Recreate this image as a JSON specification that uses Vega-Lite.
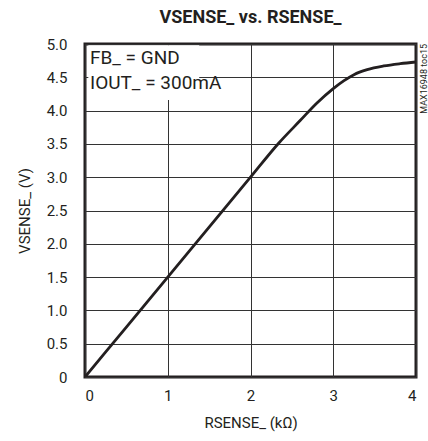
{
  "$schema": "https://vega.github.io/schema/vega-lite/v6.json",
  "autosize": "none",
  "padding": {"left": 85, "top": 44, "right": 12, "bottom": 64},
  "width": 331,
  "height": 333,
  "background": "white",
  "config": {
    "font": "Roboto, Liberation Sans, sans-serif",
    "view": {"stroke": "#231f20", "strokeWidth": 3},
    "axis": {
      "grid": true,
      "gridColor": "#333333",
      "gridWidth": 1,
      "gridOpacity": 1,
      "domain": false,
      "ticks": false,
      "labelFont": "Roboto, Liberation Sans, sans-serif",
      "labelFontSize": 15,
      "labelFontWeight": "normal",
      "labelColor": "#231f20",
      "labelOverlap": false,
      "titleFont": "Roboto, Liberation Sans, sans-serif",
      "titleFontSize": 15,
      "titleFontWeight": "normal",
      "titleColor": "#231f20"
    }
  },
  "title": {
    "text": "VSENSE_ vs. RSENSE_",
    "font": "Roboto, Liberation Sans, sans-serif",
    "fontSize": 18,
    "fontWeight": "bold",
    "color": "#231f20",
    "anchor": "middle",
    "offset": 10
  },
  "datasets": {
    "curve": [
      {"r": 0.0, "v": 0.0},
      {"r": 0.5, "v": 0.75},
      {"r": 1.0, "v": 1.5},
      {"r": 1.5, "v": 2.25},
      {"r": 2.0, "v": 3.0},
      {"r": 2.34, "v": 3.51},
      {"r": 2.6, "v": 3.85},
      {"r": 2.8, "v": 4.11},
      {"r": 3.0, "v": 4.33},
      {"r": 3.13, "v": 4.45},
      {"r": 3.25, "v": 4.54},
      {"r": 3.41, "v": 4.615},
      {"r": 3.61, "v": 4.67},
      {"r": 3.81, "v": 4.705},
      {"r": 4.0, "v": 4.73}
    ],
    "notes": [
      {"label": "FB_ = GND", "r": 0.06, "v": 4.7},
      {"label": "IOUT_ = 300mA", "r": 0.06, "v": 4.33}
    ],
    "box": [{"r": 0.04, "r2": 1.38, "v": 4.16, "v2": 4.98}],
    "tag": [{"label": "MAX16948 toc15", "r": 4, "v": 5}]
  },
  "data": {"name": "curve"},
  "encoding": {
    "x": {
      "field": "r",
      "type": "quantitative",
      "scale": {"domain": [0, 4], "nice": false},
      "axis": {
        "values": [0, 1, 2, 3, 4],
        "format": "d",
        "title": "RSENSE_ (kΩ)",
        "labelPadding": 11,
        "titlePadding": 12
      }
    },
    "y": {
      "field": "v",
      "type": "quantitative",
      "scale": {"domain": [0, 5], "nice": false},
      "axis": {
        "values": [0, 0.5, 1, 1.5, 2, 2.5, 3, 3.5, 4, 4.5, 5],
        "labelExpr": "datum.value == 0 ? '0' : format(datum.value, '.1f')",
        "title": "VSENSE_ (V)",
        "labelPadding": 18,
        "titlePadding": 14
      }
    }
  },
  "layer": [
    {
      "mark": {"type": "line", "color": "#231f20", "strokeWidth": 2.8, "interpolate": "monotone", "clip": true}
    },
    {
      "data": {"name": "box"},
      "mark": {"type": "rect", "fill": "white", "stroke": null},
      "encoding": {
        "x2": {"field": "r2"},
        "y2": {"field": "v2"}
      }
    },
    {
      "data": {"name": "notes"},
      "mark": {"type": "text", "align": "left", "baseline": "alphabetic", "fontSize": 19, "fontWeight": "normal", "color": "#231f20"},
      "encoding": {
        "text": {"field": "label"}
      }
    },
    {
      "data": {"name": "tag"},
      "mark": {"type": "text", "angle": 270, "align": "right", "baseline": "middle", "fontSize": 9, "fontWeight": "normal", "dy": 7.5, "color": "#231f20"},
      "encoding": {
        "text": {"field": "label"}
      }
    }
  ]
}
